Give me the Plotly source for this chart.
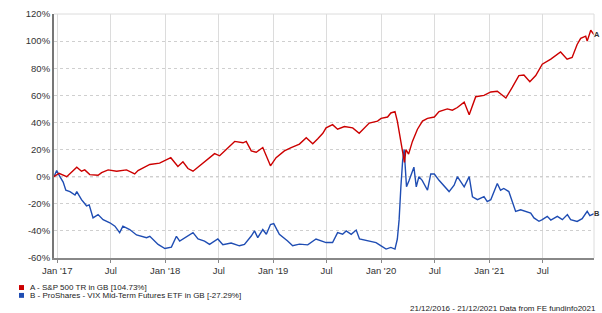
import plotly.graph_objects as go

# ---- data ----
sp_dates = ["2016-12-21","2017-01-07","2017-02-02","2017-03-08","2017-03-24","2017-04-04","2017-04-21",
    "2017-05-19","2017-05-31","2017-06-22","2017-07-21","2017-08-23","2017-09-20","2017-10-01","2017-11-10",
    "2017-12-13","2018-01-20","2018-02-13","2018-03-02","2018-03-19","2018-04-05","2018-04-22","2018-05-25",
    "2018-06-17","2018-07-04","2018-08-01","2018-08-24","2018-09-21","2018-10-02","2018-10-19","2018-11-05",
    "2018-11-27","2018-12-09","2018-12-23","2019-01-11","2019-02-08","2019-03-03","2019-03-31","2019-04-23",
    "2019-05-15","2019-06-01","2019-06-18","2019-06-29","2019-07-21","2019-08-07","2019-08-30","2019-09-27",
    "2019-10-19","2019-11-22","2019-12-20","2020-01-01","2020-01-23","2020-02-03","2020-02-17","2020-02-25",
    "2020-03-08","2020-03-20","2020-03-25","2020-04-03","2020-04-16","2020-05-03","2020-05-20","2020-06-06",
    "2020-06-29","2020-07-15","2020-08-12","2020-08-29","2020-09-15","2020-10-08","2020-10-25","2020-11-16",
    "2020-12-14","2021-01-06","2021-01-28","2021-02-26","2021-03-20","2021-04-11","2021-04-28","2021-05-18",
    "2021-06-07","2021-06-29","2021-07-28","2021-08-30","2021-09-21","2021-10-08","2021-10-25","2021-11-06",
    "2021-11-23","2021-11-28","2021-12-10","2021-12-21"]
sp_values = [0,2.5,0,7,4,5,1.5,1,3,5,4,5,2,4.5,9,10,14,7.5,11,6,4,7,13,17,15.4,21.5,26,25,26,19,18,21.5,
    15.4,8,14,19,21.5,24,28.7,24.3,28,32,36,38.4,35,37,36,32,39.5,41,43,44,47,48,41,26,10.5,20,16.6,26,35,41,
    43,44,48,50,49,51,55,45.6,59,60,62.5,63,58,66,74.6,75,70,74.6,83,86.7,92,86.7,88,97.5,102,103.6,100,108,104.73]

vix_dates = ["2016-12-21","2016-12-30","2017-01-10","2017-01-21","2017-01-30","2017-02-13","2017-03-02",
    "2017-03-08","2017-03-24","2017-04-10","2017-04-19","2017-05-02","2017-05-19","2017-06-05","2017-06-28",
    "2017-07-15","2017-07-31","2017-08-11","2017-09-03","2017-09-26","2017-10-30","2017-11-10","2017-12-08",
    "2017-12-31","2018-01-22","2018-02-08","2018-02-19","2018-03-08","2018-04-05","2018-04-22","2018-05-14",
    "2018-05-31","2018-06-28","2018-07-15","2018-08-12","2018-09-09","2018-09-26","2018-10-19","2018-10-30",
    "2018-11-10","2018-11-27","2018-12-09","2018-12-23","2019-01-03","2019-01-22","2019-02-19","2019-03-08",
    "2019-03-31","2019-04-28","2019-05-26","2019-06-18","2019-06-29","2019-07-21","2019-08-07","2019-08-24",
    "2019-09-05","2019-09-22","2019-10-09","2019-10-20","2019-11-22","2019-12-15","2020-01-01","2020-01-18",
    "2020-02-03","2020-02-17","2020-02-25","2020-03-02","2020-03-08","2020-03-14","2020-03-19","2020-03-22",
    "2020-03-27","2020-04-05","2020-04-14","2020-04-21","2020-04-29","2020-05-08","2020-05-19","2020-06-06",
    "2020-06-17","2020-06-29","2020-07-15","2020-08-07","2020-08-18","2020-09-04","2020-09-15","2020-10-08",
    "2020-10-25","2020-11-05","2020-11-22","2020-12-14","2020-12-25","2021-01-06","2021-01-28","2021-02-08",
    "2021-02-19","2021-03-08","2021-03-20","2021-03-31","2021-04-17","2021-05-04","2021-05-21","2021-06-01",
    "2021-06-18","2021-06-29","2021-07-16","2021-07-28","2021-08-19","2021-09-05","2021-09-22","2021-10-03",
    "2021-10-25","2021-11-11","2021-11-28","2021-12-07","2021-12-21"]
vix_values = [0,4.5,0,-4,-10,-11,-13.5,-11,-17,-21.5,-20.8,-30.4,-28,-31.7,-34,-36.5,-41.3,-36.5,-39,-43,-45,
    -44,-50,-53,-52,-44,-47.5,-45,-41.3,-46,-47.5,-50,-46,-50.2,-49,-51,-50,-43.8,-40,-45,-39,-42.5,-35.3,-34.6,
    -42.5,-47.4,-51,-49.8,-50.3,-46,-48,-48.6,-48.6,-41.3,-42.5,-40,-42.5,-39.4,-46,-47.4,-48.6,-51,-53.4,-52.2,
    -53.4,-46,-31.7,-7.5,12,20,7,-7.5,-2.7,2,7,-7.5,0,-2.7,-10,2,2,-2.7,-8.7,-11,-6.3,0,-7.5,0,-14.8,-17,-14.8,
    -18.4,-17,-5,-10,-8.7,-11,-18.4,-25.6,-24.4,-25.6,-26.8,-30.4,-32.9,-31.7,-29.3,-32,-29.3,-31.7,-28,-31.7,
    -33,-31,-25.6,-28.7,-27.29]

tick_dates = ["2017-01-01","2017-07-01","2018-01-01","2018-07-01","2019-01-01","2019-07-01",
              "2020-01-01","2020-07-01","2021-01-01","2021-07-01"]
tick_labels = ["Jan '17","Jul","Jan '18","Jul","Jan '19","Jul","Jan '20","Jul","Jan '21","Jul"]
y_ticks = [-60,-40,-20,0,20,40,60,80,100,120]

series_names = ["A - S&P 500 TR in GB [104.73%]",
                "B - ProShares - VIX Mid-Term Futures ETF in GB [-27.29%]"]
end_labels = ["A", "B"]
RED = "#cc0000"
BLUE = "#1f4db3"
FONT = "Liberation Sans, Arial, sans-serif"

fig = go.Figure()
fig.add_trace(go.Scatter(x=vix_dates, y=vix_values, mode="lines",
                         line=dict(color=BLUE, width=1.4), showlegend=False))
fig.add_trace(go.Scatter(x=sp_dates, y=sp_values, mode="lines",
                         line=dict(color=RED, width=1.4), showlegend=False))

fig.update_layout(
    width=602, height=313,
    margin=dict(l=54, r=8, t=10, b=55),
    paper_bgcolor="white", plot_bgcolor="white",
    font=dict(family=FONT, size=9, color="#333"),
    xaxis=dict(range=["2016-12-21", "2021-12-21"], tickvals=tick_dates, ticktext=tick_labels,
               showgrid=True, gridcolor="#dcdcdc", gridwidth=1,
               showline=True, linecolor="#888", linewidth=2,
               ticks="outside", ticklen=3, tickcolor="#888", zeroline=False,
               tickfont=dict(size=9.5, color="#333")),
    yaxis=dict(range=[-60, 120], tickvals=y_ticks, ticktext=[f"{v}%" for v in y_ticks],
               showgrid=True, gridcolor="#cfcfcf", griddash="dot", gridwidth=1,
               showline=True, linecolor="#777", linewidth=2, zeroline=False,
               ticks="", tickfont=dict(size=9.5, color="#333")),
)

# top and right border
fig.add_shape(type="line", xref="paper", yref="paper", x0=0, x1=1, y0=1, y1=1,
              line=dict(color="#dcdcdc", width=1))
fig.add_shape(type="line", xref="paper", yref="paper", x0=1, x1=1, y0=0, y1=1,
              line=dict(color="#dcdcdc", width=1))
# zero line
fig.add_shape(type="line", xref="paper", yref="y", x0=0, x1=1, y0=0, y1=0,
              line=dict(color="#777", width=1, dash="dot"), layer="below")

# end labels
for lab, xs, ys in zip(end_labels, [sp_dates, vix_dates], [sp_values, vix_values]):
    fig.add_annotation(x=xs[-1], y=ys[-1], text=f"<b>{lab}</b>", showarrow=False,
                       xanchor="left", xshift=-1, borderpad=0,
                       font=dict(size=7.5, color="#333"))

# legend (squares + text)
for i, (name, col) in enumerate(zip(series_names, [RED, BLUE])):
    yc = 288 + 8 * i
    fig.add_shape(type="rect", xref="paper", yref="paper",
                  x0=(19 - 54) / 540, x1=(24 - 54) / 540,
                  y0=(258 - (yc + 2.5)) / 248, y1=(258 - (yc - 2.5)) / 248,
                  fillcolor=col, line=dict(width=0))
    fig.add_annotation(xref="paper", yref="paper", x=(28 - 54) / 540, y=(258 - yc) / 248,
                       text=name, showarrow=False, xanchor="left", yanchor="middle",
                       font=dict(size=8, color="#222"))

fig.add_annotation(xref="paper", yref="paper", x=(598 - 54) / 540, y=(258 - 309) / 248,
                   text="21/12/2016 - 21/12/2021 Data from FE fundinfo2021", showarrow=False,
                   xanchor="right", yanchor="middle", font=dict(size=8, color="#222"))

fig.write_html("out.html")
